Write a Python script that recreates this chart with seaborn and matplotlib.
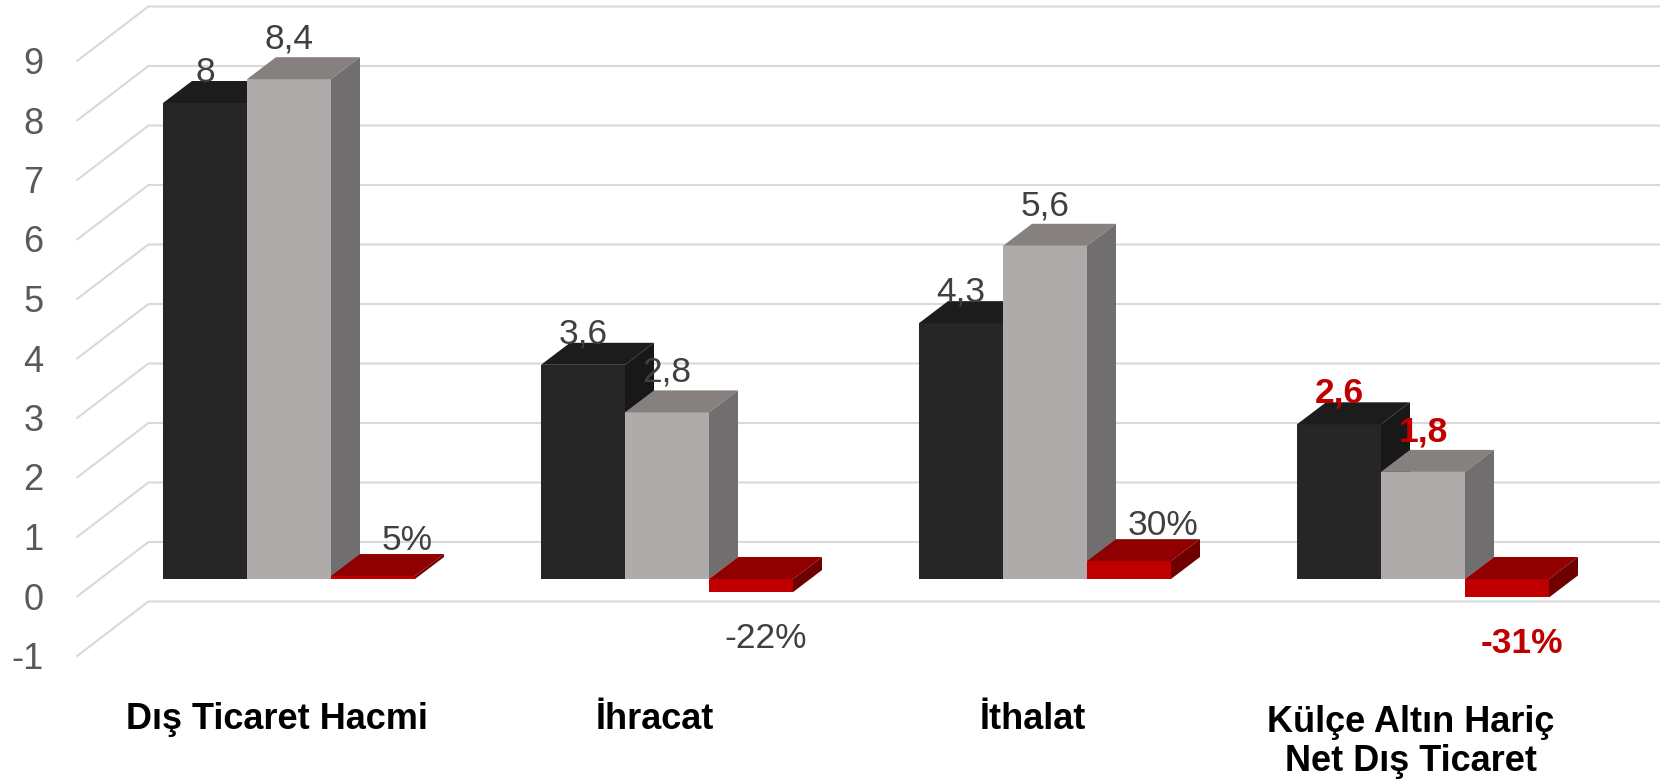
import numpy as np
import pandas as pd
import matplotlib
matplotlib.use("Agg")
import matplotlib.pyplot as plt
from matplotlib.patches import Polygon
import seaborn as sns

# ---------------- data ----------------
categories = ["Dış Ticaret Hacmi", "İhracat", "İthalat", "Külçe Altın Hariç\nNet Dış Ticaret"]
series_names = ["Önceki Dönem", "Cari Dönem", "Değişim"]
prev_values = [8.0, 3.6, 4.3, 2.6]
curr_values = [8.4, 2.8, 5.6, 1.8]
change_values = [0.05, -0.22, 0.30, -0.31]
prev_labels = ["8", "3,6", "4,3", "2,6"]
curr_labels = ["8,4", "2,8", "5,6", "1,8"]
change_labels = ["5%", "-22%", "30%", "-31%"]
y_ticks = [-1, 0, 1, 2, 3, 4, 5, 6, 7, 8, 9]

# ---------------- style ----------------
front_colors = ["#262626", "#AEABAA", "#C00000"]
top_colors = ["#1C1C1C", "#86817F", "#900000"]
side_colors = ["#181818", "#706E6E", "#6E0000"]
grid_color = "#D9D9D9"

sns.set_theme(style="white")
plt.rcParams["font.family"] = ["Liberation Sans", "DejaVu Sans"]

DPI = 100
FW, FH = 1660, 782
fig = plt.figure(figsize=(FW / DPI, FH / DPI), dpi=DPI)

# front plane of the bars: zero at 579 px from top, 59.5 px per unit
ymin, ymax = -2.0, 9.5
ppu_y = 59.5
zero_from_bottom = FH - 579
ax_bottom = zero_from_bottom + ymin * ppu_y
ax_height = (ymax - ymin) * ppu_y
ax_left, ax_width = 100, 1512
ax = fig.add_axes([ax_left / FW, ax_bottom / FH, ax_width / FW, ax_height / FH])

df = pd.DataFrame({
    "kategori": categories * 3,
    "seri": [s for s in series_names for _ in categories],
    "deger": prev_values + curr_values + change_values,
})

sns.barplot(data=df, x="kategori", y="deger", hue="seri", order=categories,
            hue_order=series_names, palette=front_colors, saturation=1,
            width=2 / 3, linewidth=0, edgecolor="none", legend=False, ax=ax)

ax.set_xlim(-0.5, len(categories) - 0.5)
ax.set_ylim(ymin, ymax)
ax.axis("off")

# pixel -> data conversions
ppu_x = ax_width / len(categories)
def dx(px):
    return px / ppu_x
def dy(px):
    return px / ppu_y

# depth offsets (pixels, y up)
wall_front = (-23.6, -18.0)
wall_back = (48.4, 37.0)
bar_depth = (29.0, 22.0)

# ---------------- gridlines (side wall + back wall) ----------------
x0, x1 = -0.5, len(categories) - 0.5
for v in y_ticks:
    xs = [x0 + dx(wall_front[0]), x0 + dx(wall_back[0]), x1 + dx(wall_back[0])]
    ys = [v + dy(wall_front[1]), v + dy(wall_back[1]), v + dy(wall_back[1])]
    ax.plot(xs, ys, color=grid_color, lw=1.5, zorder=0.5, clip_on=False,
            solid_capstyle="butt")
    ax.text(x0 + dx(wall_front[0] - 33), v + dy(wall_front[1] - 3), str(v),
            ha="right", va="center", fontsize=26, color="#595959", clip_on=False)

# ---------------- 3D faces ----------------
n_cat = len(categories)
patches = list(ax.patches)
bdx, bdy = dx(bar_depth[0]), dy(bar_depth[1])
for k, p in enumerate(patches):
    h = k // n_cat
    xl = p.get_x()
    w = p.get_width()
    y0 = p.get_y()
    hh = p.get_height()
    lo, hi = min(y0, y0 + hh), max(y0, y0 + hh)
    z = 3 + h * 0.1
    p.set_zorder(z)
    p.set_clip_on(False)
    top = Polygon([(xl, hi), (xl + w, hi), (xl + w + bdx, hi + bdy), (xl + bdx, hi + bdy)],
                  closed=True, facecolor=top_colors[h], edgecolor="none",
                  zorder=z + 0.01, clip_on=False)
    side = Polygon([(xl + w, lo), (xl + w + bdx, lo + bdy), (xl + w + bdx, hi + bdy), (xl + w, hi)],
                   closed=True, facecolor=side_colors[h], edgecolor="none",
                   zorder=z + 0.02, clip_on=False)
    ax.add_patch(top)
    ax.add_patch(side)

# ---------------- data labels ----------------
all_labels = [prev_labels, curr_labels, change_labels]
all_values = [prev_values, curr_values, change_values]
for h in range(3):
    for i in range(n_cat):
        p = patches[h * n_cat + i]
        cx = p.get_x() + p.get_width() / 2
        v = all_values[h][i]
        last = i == n_cat - 1
        color = "#C00000" if last else "#404040"
        weight = "bold" if last else "normal"
        if h < 2:
            up = 31 if h == 0 else 40
            tx, ty = cx, v + dy(up)
        else:
            if v >= 0:
                tx, ty = cx + dx(34), v + dy(36)
            else:
                tx, ty = cx + dx(15), v - dy(46)
        ax.text(tx, ty, all_labels[h][i], ha="center", va="center", fontsize=25.5,
                color=color, fontweight=weight, zorder=10, clip_on=False)

# ---------------- category labels ----------------
line_step = 42
for i, c in enumerate(categories):
    n_lines = c.count("\n") + 1
    ax.text(i + dx(-12), -dy(150 + (n_lines - 1) * line_step), c, ha="center",
            va="baseline", fontsize=26, fontweight="bold", color="black",
            linespacing=1.15, clip_on=False, multialignment="center")

fig.savefig("out.png", dpi=DPI, facecolor="white")
